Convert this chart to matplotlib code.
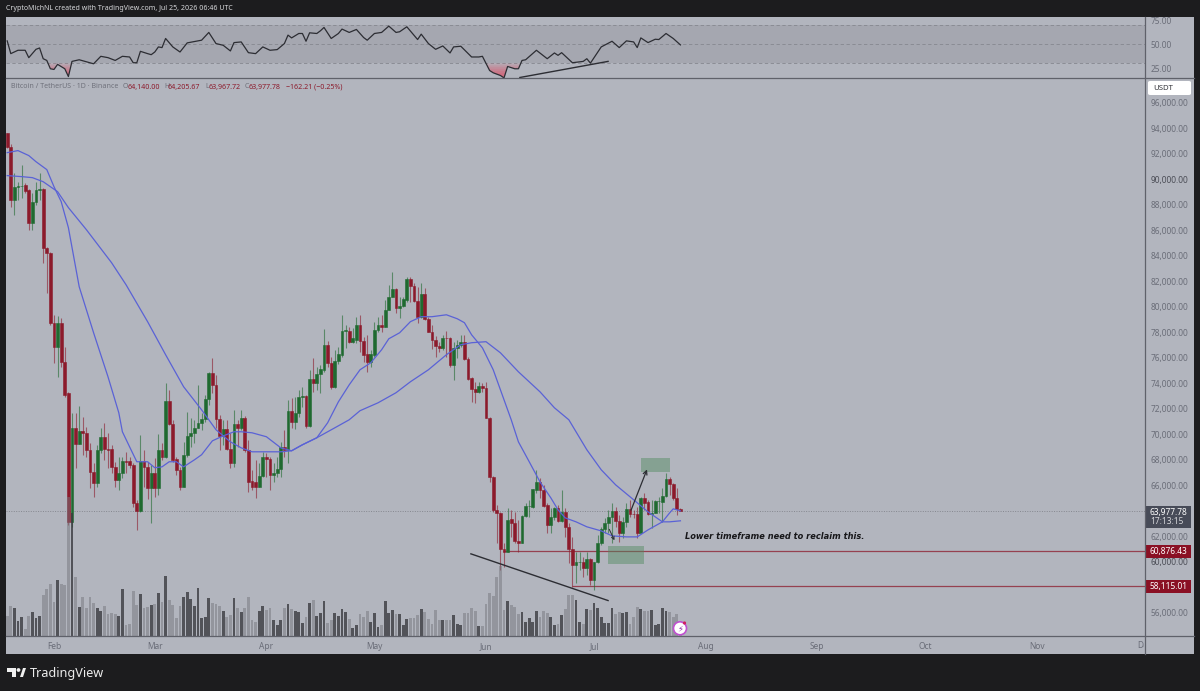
import numpy as np
import matplotlib
matplotlib.use('Agg')
import matplotlib.pyplot as plt
from matplotlib.lines import Line2D
from matplotlib.patches import Rectangle, FancyBboxPatch, Polygon, Ellipse
from matplotlib.transforms import Bbox

plt.rcParams['font.family'] = ['Noto Sans', 'DejaVu Sans']

#**************************************************#
# data, prices in thousands of USDT, x is days from Feb 1

days = np.arange(-13, 175)

opens = [93.65,92.55,88.39,89.41,89.49,89.57,89.18,86.59,88.24,89.18,
         89.26,84.63,84.24,78.75,76.86,78.75,75.69,73.26,63.14,70.51,
         69.26,70.27,70.12,68.79,67.06,66.2,68.79,69.81,68.87,68.87,
         67.45,66.43,66.98,67.92,67.92,67.61,64.63,64.0,67.92,67.45,
         65.8,66.98,65.8,68.79,68.24,72.63,70.83,68.08,67.22,65.88,
         68.4,69.88,70.12,70.51,70.9,71.22,72.79,74.82,73.88,71.22,
         69.88,70.43,68.87,67.77,70.83,70.51,71.3,68.79,66.35,66.27,
         65.88,66.75,68.24,68.08,66.82,66.98,67.3,69.02,68.79,71.84,
         70.98,71.69,72.94,72.98,70.67,74.35,74.04,74.75,75.06,77.02,
         75.61,73.73,75.77,76.24,78.12,78.12,77.26,77.41,78.59,77.33,
         76.31,75.69,76.24,78.2,78.59,78.43,79.77,80.78,81.41,79.92,
         80.08,80.55,82.2,81.65,80.47,79.22,81.02,79.06,78.04,77.41,
         76.94,76.78,77.57,77.57,75.45,76.78,77.02,77.26,75.92,74.43,
         73.57,73.33,73.8,73.65,71.3,66.67,64.08,63.84,61.02,60.78,
         63.38,63.06,61.65,61.49,63.61,64.39,64.32,65.65,66.27,65.65,
         64.47,62.9,63.53,64.24,63.22,63.92,62.75,61.02,59.77,60.0,
         60.02,59.53,60.24,58.59,60.0,61.49,62.59,63.06,63.53,64.0,
         63.22,62.28,63.14,64.16,63.77,63.77,62.28,65.02,64.71,63.77,
         63.84,64.78,64.71,65.18,66.51,66.12,65.02,64.14]

highs = [93.65,92.79,90.51,89.8,91.14,89.73,89.26,88.94,89.8,90.51,
         89.3,84.71,84.3,79.37,79.3,79.14,76.86,73.3,71.69,71.69,
         72.24,71.37,70.6,69.34,67.77,69.18,70.51,70.9,70.12,69.18,
         67.85,68.24,68.24,68.63,68.24,67.77,64.87,69.96,68.79,67.85,
         67.61,68.16,70.04,69.34,74.04,73.49,71.14,68.24,67.45,69.41,
         71.77,71.3,71.14,73.88,71.69,73.1,74.9,76.0,74.67,71.53,
         71.14,71.14,70.12,71.92,71.14,71.92,71.45,69.57,67.22,68.0,
         67.77,68.63,68.55,68.24,67.77,68.24,69.41,70.36,72.71,72.86,
         72.94,73.49,73.73,73.1,75.06,76.0,75.3,75.45,78.28,77.33,
         76.08,76.63,76.86,79.37,78.59,78.43,78.36,79.22,79.37,77.65,
         77.8,76.63,78.83,79.22,79.37,80.55,81.73,82.75,81.49,80.78,
         80.78,82.35,82.35,81.88,81.57,81.88,81.49,79.22,78.59,77.73,
         77.26,77.8,78.12,77.65,77.26,77.41,77.8,77.8,76.08,74.51,
         74.12,74.12,74.04,74.12,71.37,66.75,64.47,63.92,61.49,64.24,
         64.08,63.92,63.3,63.69,64.63,64.87,65.73,67.22,66.59,66.04,
         64.63,64.24,64.32,64.47,65.65,64.24,63.06,61.96,60.78,60.78,
         60.39,60.78,60.31,60.0,62.12,62.75,63.45,64.08,64.63,64.32,
         63.69,63.53,64.63,64.87,64.08,64.32,65.1,65.41,64.87,64.87,
         64.87,65.1,65.8,66.98,66.67,66.2,65.8,64.21]

lows = [92.47,87.85,87.22,88.39,88.55,88.94,86.04,86.04,88.0,88.39,
        83.45,81.10,78.59,75.61,74.51,75.3,72.94,62.9,62.7,67.38,
        69.26,68.4,68.24,65.8,65.1,65.88,68.55,68.0,67.38,66.98,
        65.88,65.65,66.59,66.98,67.38,64.32,62.51,63.92,65.88,64.94,
        63.06,65.1,65.26,68.0,68.16,70.75,67.84,66.82,65.65,65.88,
        68.24,69.02,69.34,70.51,70.36,70.98,72.32,73.26,70.51,68.79,
        69.18,68.79,67.38,67.45,69.02,70.36,68.63,65.49,65.65,65.02,
        65.88,66.67,66.67,65.65,66.27,66.67,66.67,68.24,67.77,70.51,
        70.43,71.37,72.16,70.51,70.59,73.34,73.49,73.26,74.9,75.3,
        73.57,73.65,75.53,76.08,76.78,77.18,77.18,77.18,76.47,75.69,
        74.9,75.3,76.08,78.04,78.04,78.43,79.77,80.78,79.53,79.14,
        80.0,80.39,80.39,80.39,78.75,79.14,78.98,78.04,76.71,76.08,
        76.47,76.63,76.08,75.3,74.28,76.0,76.86,75.85,74.28,72.55,
        72.47,73.26,73.33,71.3,66.27,63.92,61.49,59.38,59.61,60.78,
        61.96,61.49,60.78,61.49,63.53,63.53,64.24,65.41,65.02,64.32,
        62.28,62.28,63.3,63.14,63.14,61.96,59.92,58.04,58.35,59.38,
        58.82,58.98,58.2,57.81,59.92,61.34,62.28,62.28,61.49,62.75,
        61.57,61.88,62.75,63.53,63.45,61.88,62.28,64.08,63.69,62.67,
        63.84,63.84,63.14,65.1,65.26,64.87,63.69,63.97]

closes = [92.55,88.39,89.41,89.49,89.5,89.1,86.59,88.24,89.18,89.26,
          84.63,84.24,78.75,76.86,78.75,75.69,73.1,63.14,70.51,69.26,
          70.27,70.12,68.79,67.06,66.2,68.79,69.81,68.87,68.79,67.45,
          66.43,66.98,67.92,67.84,67.61,64.63,64.0,67.92,67.45,65.8,
          66.98,65.8,68.79,68.24,72.63,70.83,68.0,67.22,65.88,68.4,
          69.88,70.12,70.51,70.9,71.22,72.79,74.82,73.88,71.22,69.88,
          70.43,68.87,67.77,70.83,70.51,71.3,68.79,66.27,65.88,65.88,
          66.75,68.24,68.08,66.82,66.98,67.3,69.02,68.79,71.84,70.98,
          71.69,72.94,72.98,70.67,74.35,74.04,74.75,75.14,77.02,75.61,
          73.73,75.77,76.31,78.12,78.14,77.26,77.57,78.59,77.33,76.24,
          75.69,76.31,78.2,78.59,78.43,79.77,80.78,81.41,79.92,80.08,
          80.63,82.2,81.65,80.47,79.22,81.02,79.06,78.04,77.41,76.94,
          76.78,77.57,77.55,75.45,76.78,77.02,77.26,75.92,74.35,73.57,
          73.33,73.8,73.65,71.3,66.67,64.08,63.84,61.02,60.78,63.3,
          63.06,61.65,61.49,63.61,64.39,64.4,65.73,66.27,65.65,64.39,
          62.9,63.53,64.24,63.22,63.92,62.75,61.02,59.77,60.0,60.02,
          59.53,60.24,58.59,60.0,61.49,62.59,63.06,63.53,64.0,63.22,
          62.28,63.14,64.16,63.77,63.75,62.28,65.02,64.63,63.77,63.84,
          64.78,64.8,65.18,66.51,66.12,65.02,64.14,63.98]

volumes = [59,89,84,44,57,19,59,71,52,59,
           122,140,156,102,167,156,152,416,368,177,
           86,117,82,115,99,82,74,89,65,67,
           65,59,139,33,35,133,92,124,84,86,
           92,94,127,101,179,107,91,53,88,116,
           131,109,90,143,53,56,113,99,95,89,
           74,55,61,113,83,71,83,115,47,42,
           74,90,77,82,48,31,47,83,95,80,
           73,71,39,55,97,106,59,69,104,39,
           47,69,60,80,70,51,24,33,66,55,
           75,42,69,26,31,104,69,76,65,65,
           31,49,53,52,61,79,71,49,35,77,
           47,47,47,47,62,35,33,69,69,84,
           74,29,29,94,129,118,175,210,78,105,
           91,86,66,71,41,53,41,74,56,74,
           68,56,31,34,61,80,121,121,108,41,
           36,81,76,99,84,56,38,38,84,66,
           71,69,71,36,56,86,81,74,74,76,
           31,34,84,74,71,56,66,40]

# moving averages, read at the bends of the curves
fast_days = [-13,-10,-7,-5,-2,0,2,4,7,11,15,18,19,21,23,26,28,30,32,34,36,39,41,44,47,50,52,55,59,63,66,69,
             73,76,79,82,85,88,91,93,96,99,102,105,109,112,114,116,119,122,124,127,129,132,135,138,140,142,
             145,148,152,155,159,162,165,169,171,172,174]
fast_ma = [92.08,92.24,91.85,91.37,90.75,89.41,88.24,86.2,81.57,77.96,74.51,71.69,70.2,69.02,67.85,67.85,
           67.38,67.45,67.85,67.85,67.45,68.0,68.4,69.49,69.88,70.2,70.2,70.12,69.81,68.94,68.71,69.18,
           69.73,70.9,72.55,73.88,75.06,75.61,76.63,77.49,77.96,78.83,79.22,79.22,79.37,79.06,78.75,77.8,
           76.78,75.06,73.49,71.14,69.41,67.85,66.27,65.02,64.08,63.45,63.14,62.75,62.43,62.04,61.96,61.96,
           62.51,63.14,63.84,64.16,64.0]
slow_days = [-13,-9,-6,-3,1,4,9,16,20,26,31,36,41,45,49,52,55,59,63,66,69,73,78,82,85,90,95,99,104,109,113,
             116,120,124,129,135,139,143,148,152,156,161,165,169,171,174]
slow_ma = [90.28,90.2,90.12,89.8,89.02,87.77,86.04,83.45,81.73,78.83,76.24,73.73,71.92,70.36,69.41,68.94,
           68.63,68.63,68.63,68.71,69.18,69.73,70.51,71.14,71.85,72.47,73.26,74.12,75.06,76.24,77.02,77.18,
           77.26,76.39,74.9,73.33,72.08,71.14,68.79,67.22,66.04,64.87,63.92,63.14,63.14,63.22]

rsi_days = [-13,-12,-10,-8,-7,-5,-4,-3,-2,-1,0,1,3,4,5,7,11,13,15,17,19,21,22,23,24,26,27,28,29,30,31,33,35,
            37,41,43,45,47,49,50,52,54,56,58,60,62,64,65,66,68,69,70,71,73,74,75,77,79,80,82,84,86,87,89,91,
            93,95,96,98,101,102,104,106,108,110,111,113,116,118,119,121,122,124,125,126,128,129,130,131,134,
            137,139,140,141,144,147,148,149,152,155,157,159,161,162,163,165,167,168,170,172,174]
rsi = [53.5,40.2,43.7,43.7,36,44.7,46.1,34.9,33.1,24.4,23.7,29,24.4,16.3,32.1,33.8,29.6,37.4,36,33.1,37.4,36.7,
       30.7,30.7,42.6,40.2,39.1,41.9,47.2,46.5,56,47.2,41.9,51.4,54.2,62.3,50.7,48.9,43,51.7,52.4,41.2,40.2,
       47.2,43.7,44.4,50.7,59.5,56.6,61.2,61.2,53.1,61.9,61.2,64,67.5,56,61.2,65.8,62.3,65.4,57,54.2,61.2,62.3,
       68.9,62.3,63,68.2,54.9,60.5,50.7,44.7,48.2,40.9,47.2,47.9,36.7,36.7,37.4,22.6,20.2,17.4,14.9,26.8,24.4,
       24.4,33.1,33.8,43.7,34.9,40.9,38.4,41.2,30.7,32.1,34.9,30.3,47.2,53.1,46.5,53.5,52.4,46.5,56.6,51.7,55.2,
       54.9,61.2,56,49.3]

month_days = [0, 28, 59, 89, 120, 150, 181, 212, 242, 273]
month_labels = ['Feb', 'Mar', 'Apr', 'May', 'Jun', 'Jul', 'Aug', 'Sep', 'Oct', 'Nov']
price_ticks = [56, 60, 62, 66, 68, 70, 72, 74, 76, 78, 80, 82, 84, 86, 88, 90, 92, 94, 96]
rsi_ticks = [25, 50, 75]

last_price = 63.97778
level_high = 60.87643
level_low = 58.11501

#**************************************************#
# colours

BG = '#1c1c1e'
PANEL = '#b2b5be'
BAND = '#a5a7b0'
RED = '#8c1a2b'
GREEN = '#1f6a30'
BLUE = '#5a62d6'
TEXT = '#6a6d78'
BLACK = '#2c2d33'


def fx(x):
    return x / 1200


def fy(y):
    return 1 - y / 691


def pane(left, top, right, bottom):
    return fig.add_axes([fx(left), fy(bottom), fx(right - left), (bottom - top) / 691])


def dot(x, y, r, **kw):
    # round in pixels, the figure is wider than tall
    fig.add_artist(Ellipse((fx(x), fy(y)), fx(2 * r), 2 * r / 691, transform=fig.transFigure, **kw))


#**************************************************#
# create plot

fig = plt.figure(figsize=(12, 6.91), dpi=100, facecolor=BG)
fig.add_artist(Rectangle((fx(6), fy(654)), fx(1188), 637 / 691, transform=fig.transFigure,
                         facecolor=PANEL, edgecolor='none', zorder=-5))

ax_rsi = pane(6, 17, 1144.5, 77.5)
ax_price = pane(6, 77.5, 1144.5, 635.5)
ax_vol = ax_price.twinx()
ax_vol.set_zorder(ax_price.get_zorder() + 1)

for ax in (ax_rsi, ax_price, ax_vol):
    ax.patch.set_visible(False)
    for s in ax.spines.values():
        s.set_visible(False)

x_range = (-13.33, 302.9)

#**************************************************#
# rsi pane

ax_rsi.set_xlim(*x_range)
ax_rsi.set_ylim(15.3, 78.4)
ax_rsi.axhspan(30, 70, color=BAND, lw=0)
for level in (30, 50, 70):
    ax_rsi.axhline(level, color='#85878f', lw=0.6, dashes=(4, 3))
ax_rsi.plot(rsi_days, rsi, color=BLACK, lw=0.9, zorder=4)

# red fill under 30, deeper towards the bottom
rsi_arr = np.array(rsi)
for floor in (30, 28, 26, 24, 22, 20, 18):
    ax_rsi.fill_between(rsi_days, rsi_arr, floor, where=rsi_arr < floor, interpolate=True,
                        color='#e2485f', alpha=0.14, lw=0, zorder=3)
ax_rsi.plot([129.4, 153.9], [15.3, 32.1], color=BLACK, lw=1.0, zorder=4)

ax_rsi.yaxis.tick_right()
ax_rsi.set_yticks(rsi_ticks)
ax_rsi.set_yticklabels(['%.2f' % v for v in rsi_ticks], fontsize=6, color=TEXT)
ax_rsi.tick_params(axis='y', length=0, pad=4.5)
ax_rsi.set_xticks([])

#**************************************************#
# candles

opens, highs, lows, closes = map(np.array, (opens, highs, lows, closes))
up = closes >= opens
candle_colors = np.where(up, GREEN, RED)

ax_price.set_xlim(*x_range)
ax_price.set_ylim(54.23, 97.97)
ax_price.vlines(days, lows, highs, colors=candle_colors, lw=0.8, alpha=0.6, zorder=3)
ax_price.bar(days, closes - opens, bottom=opens, width=0.8, color=candle_colors,
             edgecolor=candle_colors, lw=0.4, zorder=3)
ax_price.plot(fast_days, fast_ma, color=BLUE, lw=0.9, zorder=4)
ax_price.plot(slow_days, slow_ma, color=BLUE, lw=0.9, zorder=4)

ax_price.axhline(last_price, color='#85878f', lw=0.7, ls=(0, (1, 1.5)), zorder=1)
ax_price.hlines(level_high, 124.7, x_range[1], color=RED, lw=0.9, alpha=0.75, zorder=2)
ax_price.hlines(level_low, 144, x_range[1], color=RED, lw=0.9, alpha=0.75, zorder=2)

ax_price.add_patch(Rectangle((163, 67.06), 8, 1.1, facecolor='#4f8a5e', alpha=0.45, lw=0, zorder=2))
ax_price.add_patch(Rectangle((154, 59.84), 10, 1.41, facecolor='#4f8a5e', alpha=0.45, lw=0, zorder=2))

ax_price.plot([115.8, 153.9], [60.63, 56.97], color=BLACK, lw=1.0, zorder=5)
ax_price.annotate('', xy=(165, 67.45), xytext=(160, 63.85),
                  arrowprops=dict(arrowstyle='->', color=BLACK, lw=0.9, mutation_scale=7), zorder=5)
ax_price.annotate('', xy=(156, 61.5), xytext=(153.9, 62.75),
                  arrowprops=dict(arrowstyle='->', color=BLACK, lw=0.7, mutation_scale=5), zorder=5)
ax_price.text(175.3, 61.99, 'Lower timeframe need to reclaim this.', fontsize=5.95, style='italic',
              weight='bold', color='#17171a', family='DejaVu Sans', va='center', zorder=6)

ax_price.yaxis.tick_right()
ax_price.set_yticks(price_ticks)
ax_price.set_yticklabels(['{:,.2f}'.format(v * 1000) for v in price_ticks], fontsize=6, color=TEXT)
for lab, v in zip(ax_price.get_yticklabels(), price_ticks):
    if v in (60, 90):
        lab.set_color('#4a4c55')
ax_price.tick_params(axis='y', length=0, pad=4.5)
ax_price.set_xticks(month_days)
ax_price.set_xticklabels(month_labels, fontsize=6, color=TEXT)
ax_price.tick_params(axis='x', length=0, pad=4.5)

#**************************************************#
# volume sits over the candles

ax_vol.set_xlim(*x_range)
ax_vol.set_ylim(0, 558 * 3)
volumes = np.array(volumes)
ax_vol.bar(days[up], volumes[up], width=0.8, color='#3a3b40', alpha=0.8, lw=0)
ax_vol.bar(days[~up], volumes[~up], width=0.8, color='#76777e', alpha=0.5, lw=0)
ax_vol.set_yticks([])

#**************************************************#
# frame lines

for x0, y0, x1, y1 in [(6, 77.5, 1194, 77.5), (6, 635.5, 1194, 635.5), (1144.5, 17, 1144.5, 654)]:
    fig.add_artist(Line2D([fx(x0), fx(x1)], [fy(y0), fy(y1)], color='#5f616a', lw=0.9))

dec = fig.text(fx(1145), fy(645), 'Dec', fontsize=6, color=TEXT, ha='center', va='center')
dec.set_clip_box(Bbox([[0, 0], [1144, 691]]))
dec.set_clip_on(True)

#**************************************************#
# header, legend, tags

fig.text(fx(6), fy(8.5), 'CryptoMichNL created with TradingView.com, Jul 25, 2026 06:46 UTC',
         fontsize=5.05, color='#d8d9dc', va='center')
fig.text(fx(11), fy(87), 'Bitcoin / TetherUS · 1D · Binance', fontsize=5.1, color='#6f717b', va='center')
legend_parts = [(123, 'O', '#6f717b'), (128, '64,140.00', RED), (164, 'H', '#6f717b'), (168, '64,205.67', RED),
                (205, 'L', '#6f717b'), (209, '63,967.72', RED), (245, 'C', '#6f717b'), (249, '63,977.78', RED),
                (286, '−162.21 (−0.25%)', RED)]
for x, s, c in legend_parts:
    fig.text(fx(x), fy(87), s, fontsize=5.1, color=c, va='center')

fig.add_artist(FancyBboxPatch((fx(1148), fy(95)), fx(43), 14 / 691, boxstyle='round,pad=0,rounding_size=0.002',
                              transform=fig.transFigure, facecolor='white', edgecolor='none'))
fig.text(fx(1153), fy(88.5), 'USDT', fontsize=5.6, color='#33343a', va='center', weight='medium')

fig.add_artist(Rectangle((fx(1145), fy(528)), fx(46), 22 / 691, transform=fig.transFigure,
                         facecolor='#474b58', edgecolor='none'))
fig.text(fx(1150), fy(512.5), '63,977.78', fontsize=6, color='white', va='center', weight='medium')
fig.text(fx(1150), fy(521.5), '17:13:15', fontsize=6, color='#d5d6da', va='center')
for top, label in ((545, '60,876.43'), (580, '58,115.01')):
    fig.add_artist(Rectangle((fx(1145), fy(top + 12.5)), fx(46), 12.5 / 691, transform=fig.transFigure,
                             facecolor='#8a1024', edgecolor='none'))
    fig.text(fx(1150), fy(top + 6.2), label, fontsize=6, color='white', va='center', weight='medium')

# lightning badge near last volume bars
dot(680, 628.3, 6.5, facecolor='white', edgecolor='#c050d0', lw=1.2, zorder=5)
dot(684.5, 623, 1.6, facecolor='#d02060', edgecolor='none', zorder=6)
fig.text(fx(680), fy(628.3), '⚡', fontsize=6, color='#8a2fa0', ha='center', va='center',
         family='DejaVu Sans', zorder=6)

# tradingview logo
logo = [[(7, 668), (16, 668), (16, 677), (12, 677), (12, 672), (7, 672)],
        [(20, 677), (23, 668), (26, 668), (23, 677)]]
for pts in logo:
    fig.add_artist(Polygon([(fx(a), fy(b)) for a, b in pts], transform=fig.transFigure,
                           facecolor='#f0f0f0', edgecolor='none'))
dot(18.5, 670, 1.9, facecolor='#f0f0f0', edgecolor='none')
fig.text(fx(29.5), fy(673), 'TradingView', fontsize=9.1, color='#ececec', va='center', weight='medium')

fig.savefig('out.png', dpi=100, facecolor=BG)
